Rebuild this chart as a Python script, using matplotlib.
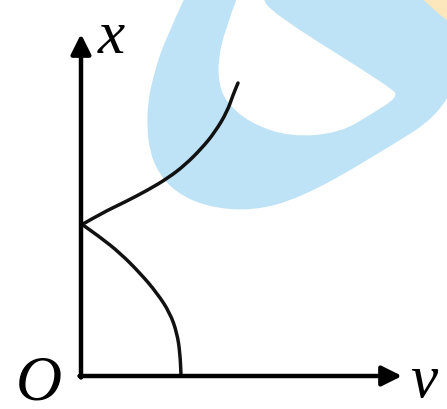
import matplotlib
matplotlib.use('Agg')
import matplotlib.pyplot as plt
from matplotlib.patches import PathPatch
from matplotlib.path import Path

# curve readings, (v, x) with the origin at O
upper_v = [2, 21, 44, 67, 87, 104, 121, 134, 146, 152, 157]
upper_x = [152, 163, 174, 186, 198, 211, 228, 244, 264, 281, 293]
lower_v = [2, 19, 39, 59, 76, 89, 96, 99, 100]
lower_x = [151, 139, 123, 103, 83, 63, 43, 23, 1]

axis_labels = ['x', 'v', 'O']

# background watermark outline, in image pixels
mark_outer = [(186, -5), (165, 40), (155, 70), (148, 100), (147, 127), (150, 152),
              (158, 172), (175, 192), (207, 207), (253, 211), (300, 198),
              (367, 161), (460, 102), (460, -5)]
mark_hole = [(238, -5), (225, 30), (218, 60), (219, 85), (227, 103), (250, 123),
             (290, 137), (340, 133), (373, 113), (398, 97), (392, 88), (270, 12),
             (262, -5)]
mark_corner = [(418, -5), (460, -5), (460, 30), (440, 15)]

OX, OY = 81, 376


def px(pts):
	return [(a - OX, OY - b) for a, b in pts]


def smooth_path(pts, closed=False):
	# quadratic pieces through the midpoints, with the readings as control points
	verts = [pts[0]]
	codes = [Path.MOVETO]
	for i in range(1, len(pts) - 1):
		mid = ((pts[i][0] + pts[i + 1][0]) / 2, (pts[i][1] + pts[i + 1][1]) / 2)
		verts += [pts[i], mid]
		codes += [Path.CURVE3, Path.CURVE3]
	verts.append(pts[-1])
	codes.append(Path.LINETO)
	if closed:
		verts.append(pts[0])
		codes.append(Path.CLOSEPOLY)
	return Path(verts, codes)


fig = plt.figure(figsize=(4.47, 4.09), dpi=100)
ax = fig.add_axes([0, 0, 1, 1])
ax.set_xlim(-OX, 447 - OX)
ax.set_ylim(OY - 409, OY)
ax.axis('off')

ax.add_patch(PathPatch(smooth_path(px(mark_outer), True), fc='#bee2f6', ec='none', zorder=0))
ax.add_patch(PathPatch(smooth_path(px(mark_hole), True), fc='white', ec='none', zorder=0.5))
ax.add_patch(PathPatch(smooth_path(px(mark_corner), True), fc='#fce7bd', ec='none', zorder=0))

# axes with arrows
ax.annotate('', xy=(0, 342), xytext=(0, -1.5),
            arrowprops=dict(arrowstyle='-|>', lw=3.2, color='k', mutation_scale=30,
                            shrinkA=0, shrinkB=0), zorder=3)
ax.annotate('', xy=(321, 0), xytext=(-1.5, 0),
            arrowprops=dict(arrowstyle='-|>', lw=3.2, color='k', mutation_scale=30,
                            shrinkA=0, shrinkB=0), zorder=3)

for vv, xx in [(upper_v, upper_x), (lower_v, lower_x)]:
	ax.add_patch(PathPatch(smooth_path(list(zip(vv, xx))), fc='none', ec='#111111',
	                       lw=2.5, capstyle='round', joinstyle='round', zorder=2))

font = dict(family='Liberation Serif', style='italic', ha='center', va='baseline')
ax.text(30, 323, axis_labels[0], fontsize=44, **font)
ax.text(343, -21, axis_labels[1], fontsize=44, **font)
ax.text(-42, -24, axis_labels[2], fontsize=46, **font)

fig.savefig('out.png', dpi=100)
